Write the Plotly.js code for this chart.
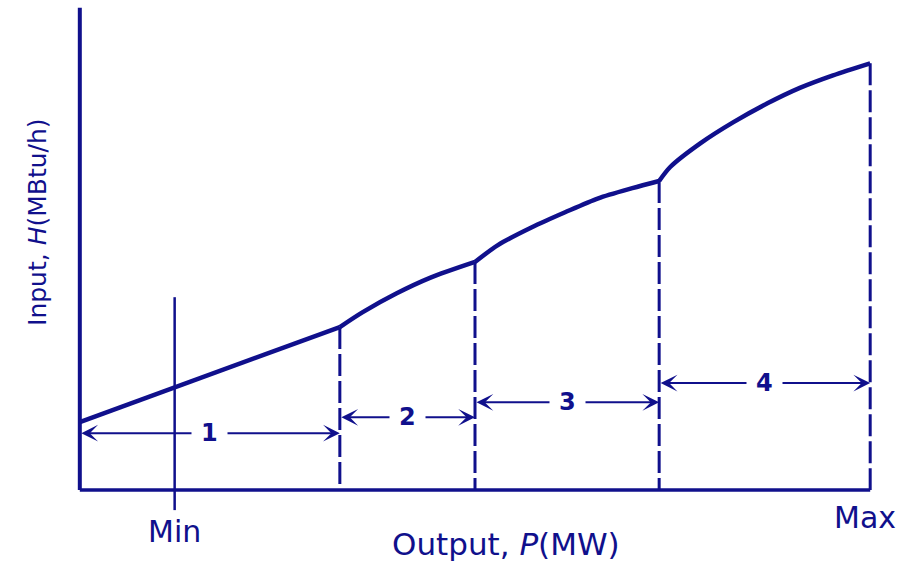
<!DOCTYPE html>
<html>
<head>
<meta charset="utf-8">
<script src="https://cdn.plot.ly/plotly-3.0.1.min.js"></script>
<style>
  html, body { margin: 0; padding: 0; background: #ffffff; }
  #chart { width: 914px; height: 561px; }
</style>
</head>
<body>
<div id="chart"></div>
<script>
// ---- data ----
// Input-output curve: output P (0 = start of axis, 100 = Max), input H
var curveP = [0, 32.9, 35.8, 40.1, 44.3, 50.0, 52.9, 57.2, 61.4, 65.6, 69.9, 73.3, 74.7, 78.5, 82.7, 87.0, 91.1, 95.3, 100];
var curveH = [14.1, 33.8, 36.9, 40.8, 44.0, 47.3, 50.8, 54.5, 57.6, 60.5, 62.6, 64.1, 67.0, 71.9, 76.3, 80.2, 83.4, 86.0, 88.5];

// segment boundaries (valve points) and curve height there
var boundP = [0, 32.9, 50.0, 73.3, 100];
var boundH = [14.1, 33.8, 47.3, 64.1, 88.5];

// segment labels and height of their dimension arrows
var segLabels = ["1", "2", "3", "4"];
var segArrowH = [11.8, 15.1, 18.2, 22.2];

// minimum output marker
var minP = 12.0;
var minLineH = [40.0, -4.15];

// axis extents
var axisMaxP = 100;
var axisMaxH = 100;

var tickLabelMin = "Min";
var tickLabelMax = "Max";
var xTitle = "Output, <i>P</i>(MW)";
var yTitle = "Input, <i>H</i>(MBtu/h)";

// ---- styling ----
var ink = "#10108c";
var font = "DejaVu Sans, Verdana, sans-serif";

var traces = [];

// axes (drawn as lines)
traces.push({x: [0, 0], y: [0, axisMaxH], mode: "lines", line: {color: ink, width: 4}, hoverinfo: "skip", showlegend: false});
traces.push({x: [0, axisMaxP], y: [0, 0], mode: "lines", line: {color: ink, width: 3.5}, hoverinfo: "skip", showlegend: false});

// dashed verticals at segment boundaries
for (var i = 1; i < boundP.length; i++) {
  traces.push({x: [boundP[i], boundP[i]], y: [boundH[i], 0], mode: "lines",
    line: {color: ink, width: 3, dash: "22px,5px"}, hoverinfo: "skip", showlegend: false});
}

// Min vertical line
traces.push({x: [minP, minP], y: minLineH, mode: "lines", line: {color: ink, width: 2.5}, hoverinfo: "skip", showlegend: false});

// the curve, one smooth piece per segment (kinks at boundaries)
for (var s = 0; s < boundP.length - 1; s++) {
  var px = [], py = [];
  for (var k = 0; k < curveP.length; k++) {
    if (curveP[k] >= boundP[s] && curveP[k] <= boundP[s + 1]) { px.push(curveP[k]); py.push(curveH[k]); }
  }
  traces.push({x: px, y: py, mode: "lines", line: {color: ink, width: 4.5, shape: "spline", smoothing: 0.8},
    hoverinfo: "skip", showlegend: false});
}

var ann = [];
// dimension arrows
for (var s = 0; s < segLabels.length; s++) {
  ann.push({
    x: boundP[s + 1], y: segArrowH[s], ax: boundP[s], ay: segArrowH[s],
    xref: "x", yref: "y", axref: "x", ayref: "y",
    text: "", showarrow: true, arrowside: "end+start",
    arrowhead: 3, startarrowhead: 3, arrowsize: 1.4, startarrowsize: 1.4,
    arrowwidth: 2, arrowcolor: ink, standoff: 0, startstandoff: 0
  });
}
// segment labels with white gap
for (var s = 0; s < segLabels.length; s++) {
  ann.push({
    x: (boundP[s] + boundP[s + 1]) / 2, y: segArrowH[s], xref: "x", yref: "y",
    text: "<b>" + segLabels[s] + "</b>", showarrow: false,
    bgcolor: "#ffffff", borderpad: 9,
    font: {family: font, size: 24, color: ink}
  });
}
// Min / Max labels
ann.push({x: minP, y: -0.0232, xref: "x", yref: "paper", xanchor: "center", yanchor: "middle",
  text: tickLabelMin, showarrow: false, font: {family: font, size: 30, color: ink}});
ann.push({x: 99.4, y: -5.6, xref: "x", yref: "y", xanchor: "center", yanchor: "middle",
  text: tickLabelMax, showarrow: false, font: {family: font, size: 30, color: ink}});
// axis titles
ann.push({x: 53.9, y: -0.0464, xref: "x", yref: "paper", xanchor: "center", yanchor: "middle",
  text: xTitle, showarrow: false, font: {family: font, size: 31, color: ink}});
ann.push({x: -0.0316, y: 55.6, xref: "paper", yref: "y", xanchor: "center", yanchor: "middle",
  text: yTitle, showarrow: false, textangle: -90, font: {family: font, size: 25, color: ink}});

var layout = {
  width: 914, height: 561,
  margin: {l: 64, r: 28, t: 3, b: 41},
  paper_bgcolor: "#ffffff", plot_bgcolor: "#ffffff",
  showlegend: false,
  xaxis: {range: [-2, 102], showgrid: false, zeroline: false, showticklabels: false, ticks: "", showline: false},
  yaxis: {range: [-6.2, 101], showgrid: false, zeroline: false, showticklabels: false, ticks: "", showline: false},
  annotations: ann
};

Plotly.newPlot("chart", traces, layout, {displayModeBar: false, staticPlot: true});
</script>
</body>
</html>
